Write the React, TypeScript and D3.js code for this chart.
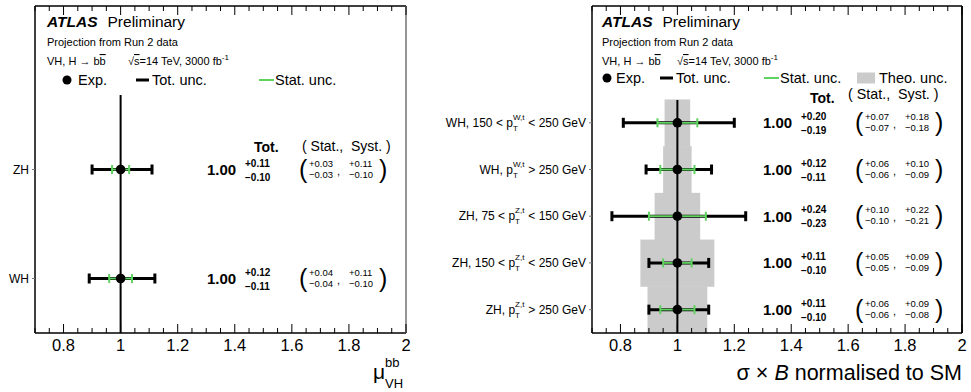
import React, { useEffect, useRef } from "react";
import * as d3 from "d3";

const W = 971;
const H = 392;
const GREEN = "#5fd35f";
const THEO = "#cbcbcb";
const FONT = "'Liberation Sans', Arial, Helvetica, sans-serif";

// ---------- data ----------
// left panel (index 0 = bottom row)
const leftCats = ["WH", "ZH"];
const leftCentral = [1.0, 1.0];
const leftTotUp = [0.12, 0.11];
const leftTotDn = [0.11, 0.1];
const leftStatUp = [0.04, 0.03];
const leftStatDn = [0.04, 0.03];
const leftSystUp = [0.11, 0.11];
const leftSystDn = [0.1, 0.1];

// right panel (index 0 = bottom row)
const rightPrefix = ["ZH, p", "ZH, 150 < p", "ZH, 75 < p", "WH, p", "WH, 150 < p"];
const rightSup = ["Z,t", "Z,t", "Z,t", "W,t", "W,t"];
const rightSuffix = [" > 250 GeV", " < 250 GeV", " < 150 GeV", " > 250 GeV", " < 250 GeV"];
const rightCentral = [1.0, 1.0, 1.0, 1.0, 1.0];
const rightTotUp = [0.11, 0.11, 0.24, 0.12, 0.2];
const rightTotDn = [0.1, 0.1, 0.23, 0.11, 0.19];
const rightStatUp = [0.06, 0.05, 0.1, 0.06, 0.07];
const rightStatDn = [0.06, 0.05, 0.1, 0.06, 0.07];
const rightSystUp = [0.09, 0.09, 0.22, 0.1, 0.18];
const rightSystDn = [0.08, 0.09, 0.21, 0.09, 0.18];
const rightTheo = [0.105, 0.13, 0.08, 0.05, 0.045];

const xDomain = [0.7, 2.0];
const majorTicks = [0.8, 1.0, 1.2, 1.4, 1.6, 1.8, 2.0];
const majorLabels = ["0.8", "1", "1.2", "1.4", "1.6", "1.8", "2"];
const minorStep = 0.05;

const f2 = (v: number) => v.toFixed(2);
const up = (v: number) => "+" + f2(v);
const dn = (v: number) => "\u2212" + f2(v);

type Sel = d3.Selection<any, any, any, any>;

function drawPanel(svg: Sel, cfg: any) {
  const g = svg.append("g");
  const { x0, x1, yTop, yBot, nSlots } = cfg;
  const x = d3.scaleLinear().domain(xDomain).range([x0, x1]);
  const y = d3.scaleLinear().domain([-0.5, nSlots - 0.5]).range([yBot, yTop]);
  const n = cfg.central.length;
  const idx = d3.range(n);

  // theory band
  if (cfg.theo) {
    g.selectAll("rect.theo")
      .data(idx)
      .join("rect")
      .attr("x", (i) => x(cfg.central[i] - cfg.theo[i]))
      .attr("width", (i) => x(cfg.central[i] + cfg.theo[i]) - x(cfg.central[i] - cfg.theo[i]))
      .attr("y", (i) => y(i + 0.5))
      .attr("height", (i) => y(i - 0.5) - y(i + 0.5) + 0.5)
      .attr("fill", THEO);
  }

  // vertical line at 1
  g.append("line")
    .attr("x1", x(1)).attr("x2", x(1))
    .attr("y1", cfg.lineTop).attr("y2", yBot)
    .attr("stroke", "#000").attr("stroke-width", 2);

  // error bars
  idx.forEach((i) => {
    const c = cfg.central[i];
    const yy = y(i);
    const lo = x(c - cfg.totDn[i]);
    const hi = x(c + cfg.totUp[i]);
    g.append("line").attr("x1", lo).attr("x2", hi).attr("y1", yy).attr("y2", yy)
      .attr("stroke", "#000").attr("stroke-width", 3);
    [lo, hi].forEach((xx) =>
      g.append("line").attr("x1", xx).attr("x2", xx).attr("y1", yy - 5).attr("y2", yy + 5)
        .attr("stroke", "#000").attr("stroke-width", 3)
    );
    const slo = x(c - cfg.statDn[i]);
    const shi = x(c + cfg.statUp[i]);
    g.append("line").attr("x1", slo).attr("x2", shi).attr("y1", yy).attr("y2", yy)
      .attr("stroke", GREEN).attr("stroke-width", 1.8);
    [slo, shi].forEach((xx) =>
      g.append("line").attr("x1", xx).attr("x2", xx).attr("y1", yy - 4.5).attr("y2", yy + 4.5)
        .attr("stroke", GREEN).attr("stroke-width", 2)
    );
    g.append("circle").attr("cx", x(c)).attr("cy", yy).attr("r", 4.8).attr("fill", "#000");
  });

  // frame
  g.append("line").attr("x1", x0).attr("x2", x1).attr("y1", yBot).attr("y2", yBot).attr("stroke", "#000").attr("stroke-width", 1.5);
  g.append("line").attr("x1", x0).attr("x2", x1).attr("y1", yTop).attr("y2", yTop).attr("stroke", "#000").attr("stroke-width", 1.5);
  g.append("line").attr("x1", x0).attr("x2", x0).attr("y1", yTop).attr("y2", yBot).attr("stroke", "#000").attr("stroke-width", 1.5);
  g.append("line").attr("x1", x1).attr("x2", x1).attr("y1", yTop).attr("y2", yBot).attr("stroke", cfg.rightColor).attr("stroke-width", 1.8);

  // x ticks
  const nMinor = Math.round((xDomain[1] - xDomain[0]) / minorStep);
  const allTicks = d3.range(nMinor + 1).map((k) => xDomain[0] + k * minorStep);
  allTicks.forEach((v) => {
    const isMajor = majorTicks.some((m) => Math.abs(m - v) < 1e-6);
    const len = isMajor ? 9 : 5;
    const xx = x(v);
    g.append("line").attr("x1", xx).attr("x2", xx).attr("y1", yBot).attr("y2", yBot - len).attr("stroke", "#000").attr("stroke-width", 1);
    g.append("line").attr("x1", xx).attr("x2", xx).attr("y1", yTop).attr("y2", yTop + len).attr("stroke", "#000").attr("stroke-width", 1);
  });
  majorTicks.forEach((v, k) => {
    g.append("text").attr("x", x(v)).attr("y", yBot + 18).attr("text-anchor", "middle")
      .attr("font-size", 16.5).attr("fill", "#000").text(majorLabels[k]);
  });

  // y ticks
  idx.forEach((i) => {
    g.append("line").attr("x1", x0 - 3).attr("x2", x0).attr("y1", y(i)).attr("y2", y(i)).attr("stroke", "#777").attr("stroke-width", 1);
  });

  // y labels
  idx.forEach((i) => {
    const yy = y(i) + 4;
    const lx = x0 - 6;
    if (cfg.labels) {
      g.append("text").attr("x", lx).attr("y", yy).attr("text-anchor", "end").attr("font-size", 12).text(cfg.labels[i]);
    } else {
      const suf = g.append("text").attr("x", lx).attr("y", yy).attr("text-anchor", "end").attr("font-size", 12)
        .attr("xml:space", "preserve").style("white-space", "pre").text(cfg.suffix[i]);
      const w1 = (suf.node() as SVGTextElement).getComputedTextLength();
      const sup = g.append("text").attr("y", yy - 7).attr("font-size", 8).text(cfg.sup[i]);
      const wSup = (sup.node() as SVGTextElement).getComputedTextLength();
      const start = lx - w1 - wSup - 0.5;
      sup.attr("x", start);
      g.append("text").attr("x", start).attr("y", yy + 4).attr("font-size", 8).text("T");
      g.append("text").attr("x", start).attr("y", yy).attr("text-anchor", "end").attr("font-size", 12).text(cfg.prefix[i]);
    }
  });

  // value text
  idx.forEach((i) => {
    const yy = y(i);
    g.append("text").attr("x", x1 - 199).attr("y", yy + 5.5).attr("font-size", 15).attr("font-weight", "bold").text(f2(cfg.central[i]));
    g.append("text").attr("x", x1 - 161).attr("y", yy - 3).attr("font-size", 10).attr("font-weight", "bold").text(up(cfg.totUp[i]));
    g.append("text").attr("x", x1 - 161).attr("y", yy + 11).attr("font-size", 10).attr("font-weight", "bold").text(dn(cfg.totDn[i]));
    g.append("text").attr("x", x1 - 107).attr("y", yy + 8).attr("font-size", 25).attr("font-weight", "300").text("(");
    g.append("text").attr("x", x1 - 97).attr("y", yy - 3).attr("font-size", 9.5).text(up(cfg.statUp[i]));
    g.append("text").attr("x", x1 - 97).attr("y", yy + 8).attr("font-size", 9.5).text(dn(cfg.statDn[i]));
    g.append("text").attr("x", x1 - 69).attr("y", yy + 5).attr("font-size", 11).text(",");
    g.append("text").attr("x", x1 - 57).attr("y", yy - 3).attr("font-size", 9.5).text(up(cfg.systUp[i]));
    g.append("text").attr("x", x1 - 57).attr("y", yy + 8).attr("font-size", 9.5).text(dn(cfg.systDn[i]));
    g.append("text").attr("x", x1 - 27).attr("y", yy + 8).attr("font-size", 25).attr("font-weight", "300").text(")");
  });
  const topRow = y(n - 1);
  g.append("text").attr("x", x1 - 152).attr("y", topRow + cfg.totDy).attr("font-size", 14).attr("font-weight", "bold").text("Tot.");
  g.append("text").attr("x", x1 - cfg.ssDx).attr("y", topRow + cfg.ssDy).attr("font-size", cfg.ssSize)
    .attr("xml:space", "preserve").style("white-space", "pre").text("( Stat.,  Syst. )");

  // header
  const hx = cfg.hx;
  const t1 = g.append("text").attr("x", hx).attr("y", 27).attr("font-size", 15.5);
  t1.append("tspan").attr("font-weight", "bold").attr("font-style", "italic").text("ATLAS");
  t1.append("tspan").attr("dx", 10).text("Preliminary");
  g.append("text").attr("x", hx).attr("y", 46).attr("font-size", 11).text("Projection from Run 2 data");
  const t3 = g.append("text").attr("x", hx).attr("y", 65).attr("font-size", 11);
  t3.append("tspan").text("VH, H \u2192 b");
  t3.append("tspan").style("text-decoration", "overline").text("b");
  const t3b = g.append("text").attr("x", hx + cfg.sqrtDx).attr("y", 65).attr("font-size", 11);
  t3b.append("tspan").text("\u221A");
  t3b.append("tspan").style("text-decoration", "overline").text("s");
  t3b.append("tspan").text("=14 TeV, 3000 fb");
  t3b.append("tspan").attr("dy", -5).attr("font-size", 8).text("-1");

  // legend
  const ly = cfg.legendY;
  const L = cfg.legend;
  g.append("circle").attr("cx", L.dot).attr("cy", ly).attr("r", 4.5).attr("fill", "#000");
  g.append("text").attr("x", L.dot + L.expDx).attr("y", ly + 5).attr("font-size", 14.5).text("Exp.");
  g.append("line").attr("x1", L.tot).attr("x2", L.tot + 13).attr("y1", ly).attr("y2", ly).attr("stroke", "#000").attr("stroke-width", 3);
  g.append("text").attr("x", L.tot + 16).attr("y", ly + 5).attr("font-size", 14.5).text("Tot. unc.");
  g.append("line").attr("x1", L.stat).attr("x2", L.stat + 15).attr("y1", ly).attr("y2", ly).attr("stroke", GREEN).attr("stroke-width", 2);
  g.append("text").attr("x", L.stat + 16).attr("y", ly + 5).attr("font-size", 14.5).text("Stat. unc.");
  if (L.theo) {
    g.append("rect").attr("x", L.theo).attr("y", ly - 5.5).attr("width", 18).attr("height", 11).attr("fill", THEO);
    g.append("text").attr("x", L.theo + 22).attr("y", ly + 5).attr("font-size", 14.5).text("Theo. unc.");
  }
}

export default function App() {
  const ref = useRef<SVGSVGElement>(null);
  useEffect(() => {
    const svg = d3.select(ref.current);
    svg.selectAll("*").remove();
    svg.append("rect").attr("width", W).attr("height", H).attr("fill", "#fff");

    drawPanel(svg, {
      x0: 35, x1: 406, yTop: 6, yBot: 333, nSlots: 3, lineTop: 95,
      rightColor: "#8a8a8a",
      labels: leftCats,
      central: leftCentral, totUp: leftTotUp, totDn: leftTotDn,
      statUp: leftStatUp, statDn: leftStatDn, systUp: leftSystUp, systDn: leftSystDn,
      totDy: -18, ssDy: -19, ssDx: 104, ssSize: 14,
      hx: 47, sqrtDx: 81, legendY: 80,
      legend: { dot: 67, expDx: 11, tot: 136, stat: 259 },
    });

    drawPanel(svg, {
      x0: 592, x1: 962, yTop: 6, yBot: 333, nSlots: 7, lineTop: 100,
      rightColor: "#000",
      prefix: rightPrefix, sup: rightSup, suffix: rightSuffix,
      central: rightCentral, totUp: rightTotUp, totDn: rightTotDn,
      statUp: rightStatUp, statDn: rightStatDn, systUp: rightSystUp, systDn: rightSystDn,
      theo: rightTheo,
      totDy: -20, ssDy: -24, ssDx: 114, ssSize: 14.3,
      hx: 602, sqrtDx: 75, legendY: 78,
      legend: { dot: 607, expDx: 9, tot: 660, stat: 764, theo: 857 },
    });

    // axis titles
    const at = svg.append("g").attr("font-family", FONT);
    at.append("text").attr("x", 373).attr("y", 379).attr("font-size", 21).text("\u03BC");
    at.append("text").attr("x", 385).attr("y", 367).attr("font-size", 13).text("bb");
    at.append("text").attr("x", 385).attr("y", 388).attr("font-size", 13).text("VH");

    const rt = at.append("text").attr("x", 962).attr("y", 380).attr("text-anchor", "end").attr("font-size", 21.5);
    rt.append("tspan").text("\u03C3 \u00D7 ");
    rt.append("tspan").attr("font-style", "italic").text("B");
    rt.append("tspan").text(" normalised to SM");
  }, []);
  return (
    <svg
      ref={ref}
      width={W}
      height={H}
      fontFamily={FONT}
      style={{ position: "absolute", left: 0, top: 0, display: "block" }}
    />
  );
}
